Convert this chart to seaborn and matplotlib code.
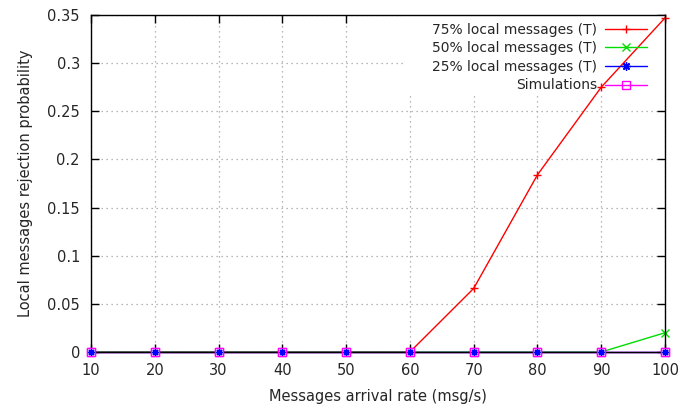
import matplotlib
matplotlib.use("Agg")
import matplotlib.pyplot as plt
import matplotlib.ticker as mticker
from matplotlib.patches import Rectangle
import seaborn as sns
import pandas as pd

# Arrival rates (msg/s)
rates = [10, 20, 30, 40, 50, 60, 70, 80, 90, 100]

# Rejection probability of local messages (analytical model)
p75 = [0, 0, 0, 0, 0, 0, 0.066, 0.184, 0.275, 0.347]
p50 = [0, 0, 0, 0, 0, 0, 0, 0, 0, 0.02]
p25 = [0, 0, 0, 0, 0, 0, 0, 0, 0, 0]
# Simulation results
sim = [0, 0, 0, 0, 0, 0, 0, 0, 0, 0]

labels = ["75% local messages (T)", "50% local messages (T)",
          "25% local messages (T)", "Simulations"]
colors = ["#ff0000", "#00dd00", "#0000ff", "#ff00ff"]
markers = ["+", "x", (8, 2, 0), "s"]
series = [p75, p50, p25, sim]

sns.set_style("white")
plt.rcParams["font.family"] = ["DejaVu Sans"]
TXT = "#262626"

fig = plt.figure(figsize=(6.78, 4.08), dpi=100)
ax = fig.add_axes([91 / 678, 1 - 352 / 408, (665 - 91) / 678, (352 - 15) / 408])

for vals, lab, col, mk in zip(series, labels, colors, markers):
    df = pd.DataFrame({"rate": rates, "prob": vals})
    kw = dict(markersize=6, markeredgewidth=1.0)
    if mk == "s":
        kw.update(markerfacecolor="none")
    sns.lineplot(data=df, x="rate", y="prob", ax=ax, color=col, marker=mk,
                 markeredgecolor=col, linewidth=1.0, label=lab,
                 clip_on=False, zorder=2.2, **kw)

# simulation squares and blue stars redrawn above the frame
sim_df = pd.DataFrame({"rate": rates, "prob": sim})
ax.plot(sim_df["rate"], sim_df["prob"], linestyle="none", marker="s",
        markersize=6, markerfacecolor="white", markeredgecolor=colors[3],
        markeredgewidth=1.0, clip_on=False, zorder=3, label="_nolegend_")
p25_df = pd.DataFrame({"rate": rates, "prob": p25})
ax.plot(p25_df["rate"], p25_df["prob"], linestyle="none", marker=(8, 2, 0),
        markersize=5, color=colors[2], markeredgewidth=1.0, clip_on=False,
        zorder=3.1, label="_nolegend_")

ax.set_xlim(10, 100)
ax.set_ylim(0, 0.35)
ax.xaxis.set_major_locator(mticker.MultipleLocator(10))
ax.yaxis.set_major_locator(mticker.MultipleLocator(0.05))
ax.yaxis.set_major_formatter(mticker.FuncFormatter(lambda v, p: f"{v:g}"))

ax.grid(True, color="#a0a0a0", linestyle=(0, (1, 3)), linewidth=0.9)
ax.set_axisbelow(True)

# opaque key area over the grid
ax.add_patch(Rectangle((0.547, 0.763), 0.453, 0.237, transform=ax.transAxes,
                       facecolor="white", edgecolor="none", zorder=1.5))

ax.tick_params(axis="both", direction="in", length=6, width=1, labelsize=10.5,
               top=True, right=True, bottom=True, left=True, colors="black",
               labelcolor=TXT, pad=8)
for s in ax.spines.values():
    s.set_color("black")
    s.set_linewidth(1.0)
    s.set_zorder(2.5)

ax.set_xlabel("Messages arrival rate (msg/s)", fontsize=10.5, color=TXT, labelpad=8)
ax.set_ylabel("Local messages rejection probability", fontsize=10.5, color=TXT, labelpad=10)

leg = ax.legend(loc="upper right", bbox_to_anchor=(0.982, 1.0), markerfirst=False,
                frameon=False, fontsize=10, handlelength=3.0, handletextpad=0.6,
                borderaxespad=0.2, labelspacing=0.33, borderpad=0.35)
leg.set_zorder(2.3)
for t in leg.get_texts():
    t.set_color(TXT)

fig.savefig("out.png", dpi=100)
